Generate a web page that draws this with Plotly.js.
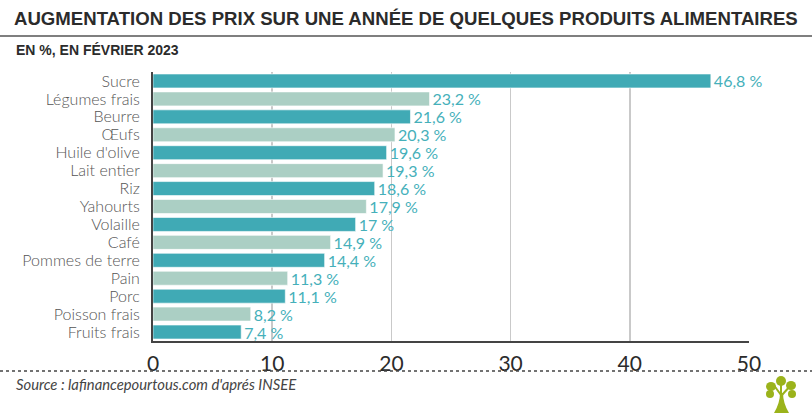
<!DOCTYPE html>
<html>
<head>
<meta charset="utf-8">
<script src="https://cdn.plot.ly/plotly-3.0.1.min.js"></script>
<style>html,body{margin:0;padding:0;background:#fff;}#chart{width:812px;height:413px;}</style>
</head>
<body>
<div id="chart"></div>
<script>
const categories = ["Sucre","Légumes frais","Beurre","Œufs","Huile d'olive","Lait entier","Riz","Yahourts","Volaille","Café","Pommes de terre","Pain","Porc","Poisson frais","Fruits frais"];
const values = [46.8,23.2,21.6,20.3,19.6,19.3,18.6,17.9,17,14.9,14.4,11.3,11.1,8.2,7.4];
const xTicks = [0,10,20,30,40,50];

const dark = '#40aab5', light = '#abcfc4';
const colors = categories.map((c,i)=> i%2===0 ? dark : light);
const labels = values.map(v => String(v).replace('.', ',') + ' %');

const L=153, R=749, T=72, B=341, W=812, H=413;
const px = p => (p-L)/(R-L);
const py = p => (B-p)/(B-T);
const green = '#9bb31b';

const trace = {
  type:'bar', orientation:'h', y:categories, x:values,
  marker:{color:colors, line:{color:'rgba(255,255,255,0.6)', width:1}},
  width:0.78,
  text:labels, textposition:'outside', constraintext:'none', cliponaxis:false,
  textfont:{family:'Lato, "Open Sans", sans-serif', size:16, color:'#45b0ba'},
  hoverinfo:'none'
};

const layout = {
  width:W, height:H, margin:{l:L, r:W-R, t:T, b:H-B},
  paper_bgcolor:'#fff', plot_bgcolor:'#fff', showlegend:false,
  title:{text:'AUGMENTATION DES PRIX SUR UNE ANNÉE DE QUELQUES PRODUITS ALIMENTAIRES',
    x:14/W, xanchor:'left', xref:'container', y:1-18/H, yanchor:'middle', yref:'container',
    font:{family:'"Liberation Sans", Arial, sans-serif', size:18.6, color:'#2b2b2b', weight:700}},
  xaxis:{range:[0,50], tickvals:xTicks, ticktext:xTicks.map(String), showgrid:true, gridcolor:'#c9c9c9', gridwidth:1.5,
    zeroline:false, showline:true, linecolor:'#444', linewidth:2, ticks:'outside', ticklen:3, tickcolor:'rgba(0,0,0,0)',
    tickfont:{family:'Lato, "Open Sans", sans-serif', size:21, color:'#2b2b2b'}, fixedrange:true},
  yaxis:{autorange:'reversed', tickmode:'array', tickvals:categories, showline:true, linecolor:'#444', linewidth:2, showgrid:false,
    ticks:'outside', ticklen:8, tickcolor:'rgba(0,0,0,0)',
    tickfont:{family:'Lato, "Open Sans", sans-serif', size:16, color:'#555', weight:300}, fixedrange:true},
  shapes:[
    {type:'line', xref:'paper', yref:'paper', x0:px(0), x1:px(W), y0:py(36), y1:py(36), line:{color:'#555', width:1.5}},
    {type:'line', xref:'paper', yref:'paper', x0:px(0), x1:px(W), y0:py(371), y1:py(371), line:{color:'#444', width:1.5, dash:'dot'}},
    {type:'path', xref:'paper', yref:'paper', fillcolor:green, line:{width:0},
      path:`M ${px(774)} ${py(413)} Q ${px(780)} ${py(403)} ${px(780)} ${py(393)} L ${px(783)} ${py(393)} Q ${px(783)} ${py(403)} ${px(789)} ${py(413)} Z`},
    {type:'path', xref:'paper', yref:'paper', line:{color:green, width:2},
      path:`M ${px(781)} ${py(395)} L ${px(773)} ${py(384)} M ${px(781)} ${py(395)} L ${px(781)} ${py(380)} M ${px(782)} ${py(395)} L ${px(791)} ${py(385)}`},
    {type:'circle', xref:'paper', yref:'paper', fillcolor:green, line:{width:0}, x0:px(766), x1:px(776), y0:py(391), y1:py(382)},
    {type:'circle', xref:'paper', yref:'paper', fillcolor:green, line:{width:0}, x0:px(776), x1:px(786), y0:py(386), y1:py(376)},
    {type:'circle', xref:'paper', yref:'paper', fillcolor:green, line:{width:0}, x0:px(786), x1:px(796), y0:py(390), y1:py(381)},
    {type:'circle', xref:'paper', yref:'paper', fillcolor:green, line:{width:0}, x0:px(766), x1:px(774), y0:py(398), y1:py(390)},
    {type:'circle', xref:'paper', yref:'paper', fillcolor:green, line:{width:0}, x0:px(788), x1:px(796), y0:py(398), y1:py(390)}
  ],
  annotations:[
    {text:'EN %, EN FÉVRIER 2023', xref:'paper', yref:'paper', x:px(14), y:py(50), xanchor:'left', yanchor:'middle', showarrow:false,
      font:{family:'"Liberation Sans", Arial, sans-serif', size:14, color:'#2b2b2b', weight:700}},
    {text:"Source : lafinancepourtous.com d'aprés INSEE", xref:'paper', yref:'paper', x:px(14), y:py(384), xanchor:'left', yanchor:'middle', showarrow:false,
      font:{family:'Lato, "Open Sans", sans-serif', size:14.8, color:'#444', style:'italic'}}
  ]
};

Plotly.newPlot('chart', [trace], layout, {displayModeBar:false, staticPlot:true});
</script>
</body>
</html>
